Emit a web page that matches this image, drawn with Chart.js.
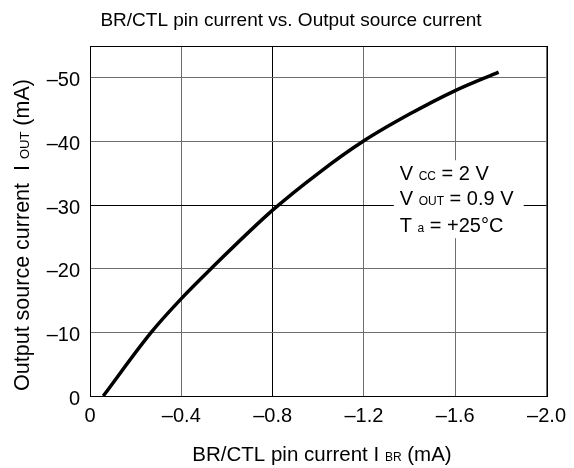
<!DOCTYPE html>
<html>
<head>
<meta charset="utf-8">
<script src="https://cdn.jsdelivr.net/npm/chart.js@4"></script>
<style>
  html, body { margin: 0; background: #fff; }
  #wrap { width: 574px; height: 468px; }
</style>
</head>
<body>
<div id="wrap"><canvas id="chart"></canvas></div>
<script>
// data
const brCurrent  = [-0.058, -0.268, -0.40, -0.53, -0.80, -1.00, -1.20, -1.40, -1.60, -1.79];
const outCurrent = [0, -10, -15.3, -20, -29.2, -35.0, -40.1, -44.3, -48.0, -50.9];

// ticks
const xTicks = [0, -0.4, -0.8, -1.2, -1.6, -2.0];
const xTickLabels = ['0', '\u20130.4', '\u20130.8', '\u20131.2', '\u20131.6', '\u20132.0'];
const yTicks = [0, -10, -20, -30, -40, -50];
const yTickLabels = ['0', '\u201310', '\u201320', '\u201330', '\u201340', '\u201350'];

const FONT = '"Liberation Sans", Arial, sans-serif';

// draw a run of text pieces with different sizes on one baseline
function drawRuns(ctx, x, y, runs, align) {
  let total = 0;
  runs.forEach(r => { ctx.font = r[1] + 'px ' + FONT; total += ctx.measureText(r[0]).width; });
  let cx = align === 'center' ? x - total / 2 : x;
  ctx.textAlign = 'left';
  ctx.textBaseline = 'alphabetic';
  runs.forEach(r => {
    ctx.font = r[1] + 'px ' + FONT;
    ctx.fillText(r[0], cx, y);
    cx += ctx.measureText(r[0]).width;
  });
}

const extras = {
  id: 'extras',
  afterDraw(chart) {
    const ctx = chart.ctx;
    const a = chart.chartArea;
    const xs = chart.scales.x, ys = chart.scales.y;
    ctx.save();
    ctx.fillStyle = '#000';

    // frame
    ctx.strokeStyle = '#000';
    ctx.lineWidth = 1;
    ctx.strokeRect(Math.round(a.left) + 0.5, Math.round(a.top) + 0.5,
                   Math.round(a.right - a.left), Math.round(a.bottom - a.top));

    // condition box
    const bx = xs.getPixelForValue(-1.331), bx2 = xs.getPixelForValue(-1.90);
    const by = ys.getPixelForValue(-37.05), by2 = ys.getPixelForValue(-24.8);
    ctx.fillStyle = '#fff';
    ctx.fillRect(bx, by, bx2 - bx, by2 - by);
    ctx.fillStyle = '#000';
    const tx = xs.getPixelForValue(-1.357);
    drawRuns(ctx, tx, ys.getPixelForValue(-33.9), [['V ', 20], ['CC', 12], [' = 2 V', 20]]);
    drawRuns(ctx, tx, ys.getPixelForValue(-30.0), [['V ', 20], ['OUT', 12], [' = 0.9 V', 20]]);
    drawRuns(ctx, tx, ys.getPixelForValue(-25.8), [['T ', 20], ['a', 12], [' = +25\u00b0C', 20]]);

    // chart title
    drawRuns(ctx, 291, 26, [['BR/CTL pin current vs. Output source current', 19]], 'center');

    // x title
    drawRuns(ctx, 322, 461, [['BR/CTL pin current I ', 20.5], ['BR', 12], [' (mA)', 20.5]], 'center');

    // y title
    ctx.translate(29, 235);
    ctx.rotate(-Math.PI / 2);
    drawRuns(ctx, 0, 0, [['Output source current  I ', 21.5], ['OUT', 13], [' (mA)', 21.5]], 'center');
    ctx.restore();
  }
};

const ctx = document.getElementById('chart').getContext('2d');
new Chart(ctx, {
  type: 'line',
  data: {
    datasets: [{
      data: brCurrent.map((v, i) => ({ x: v, y: outCurrent[i] })),
      borderColor: '#000',
      borderWidth: 3.5,
      pointRadius: 0,
      cubicInterpolationMode: 'monotone',
      fill: false
    }]
  },
  options: {
    responsive: true,
    maintainAspectRatio: false,
    animation: false,
    layout: { padding: { top: 46, right: 23, left: 0, bottom: 0 } },
    plugins: { legend: { display: false }, tooltip: { enabled: false } },
    scales: {
      x: {
        type: 'linear',
        min: -2, max: 0,
        reverse: true,
        afterBuildTicks: s => { s.ticks = xTicks.map(v => ({ value: v })); },
        afterFit: s => { s.height = 72; },
        ticks: {
          color: '#000',
          padding: 8,
          maxRotation: 0,
          font: { family: FONT, size: 20 },
          callback: v => xTickLabels[xTicks.indexOf(v)]
        },
        grid: {
          drawTicks: false,
          color: c => (c.tick && c.tick.value === -0.8) ? '#000' : '#6e6e6e'
        },
        border: { display: false }
      },
      y: {
        type: 'linear',
        min: -55, max: 0,
        reverse: true,
        afterBuildTicks: s => { s.ticks = yTicks.map(v => ({ value: v })); },
        afterFit: s => { s.width = 90; },
        ticks: {
          color: '#000',
          padding: 10,
          labelOffset: 3,
          font: { family: FONT, size: 20 },
          callback: v => yTickLabels[yTicks.indexOf(v)]
        },
        grid: {
          drawTicks: false,
          color: c => (c.tick && c.tick.value === -30) ? '#000' : '#6e6e6e'
        },
        border: { display: false }
      }
    }
  },
  plugins: [extras]
});
</script>
</body>
</html>
